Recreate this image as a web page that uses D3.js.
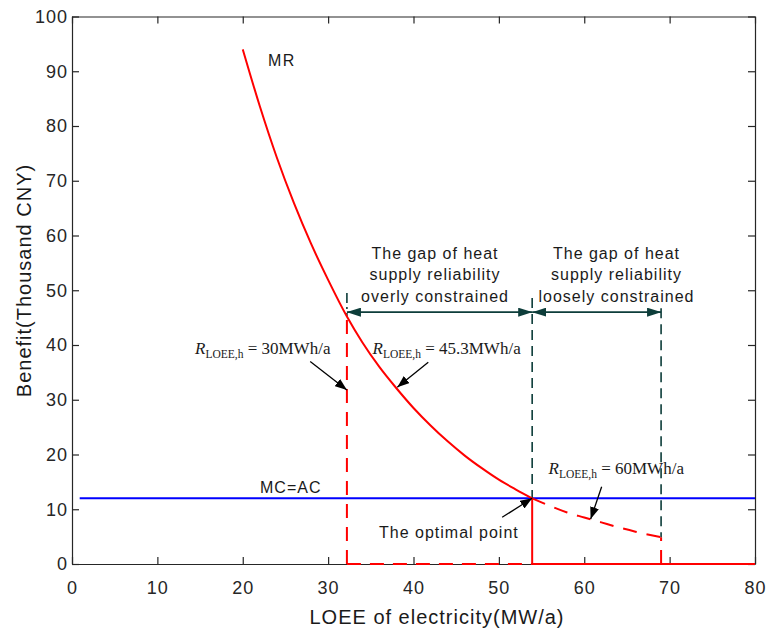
<!DOCTYPE html>
<html lang="en">
<head>
    <meta charset="UTF-8">
    <title>MR vs MC</title>
    <style>
        body { margin: 0; background: #fff; }
        svg { display: block; }
        .axis text { font-family: "Liberation Sans", Arial, sans-serif; font-size: 18px; fill: #262626; letter-spacing: 1px; }
        .axis path, .axis line { stroke: #262626; stroke-width: 1.2px; }
        .lbl { font-family: "Liberation Sans", Arial, sans-serif; fill: #1a1a1a; }
        .rl { font-family: "Liberation Serif", "Times New Roman", serif; fill: #1a1a1a; font-size: 17px; }
    </style>
</head>
<body>
    <div id="chart"></div>
    <script src="https://d3js.org/d3.v7.min.js"></script>
    <script>
        // tick values
        const xTicks = [0, 10, 20, 30, 40, 50, 60, 70, 80];
        const yTicks = [0, 10, 20, 30, 40, 50, 60, 70, 80, 90, 100];

        // MR curve, solid part (LOEE, benefit)
        const mrX = [20, 22, 24, 26, 28, 30, 32.2, 34, 36, 38, 40, 42, 44, 46, 48, 50, 52, 53.9];
        const mrY = [94, 83.6, 74.2, 65.9, 58.5, 51.9, 45.2, 40.5, 36.0, 32.1, 28.5, 25.3, 22.4, 19.8, 17.5, 15.4, 13.6, 12.0];
        // MR curve beyond the optimum (dashed)
        const mrDashX = [53.9, 56, 58, 60, 62, 64, 66, 69];
        const mrDashY = [12.0, 10.6, 9.4, 8.5, 7.6, 6.7, 5.9, 4.9];

        // MC = AC level
        const mcX = [0.9, 80];
        const mcY = [12, 12];

        // key LOEE positions: 30 MWh/a, optimum, 60 MWh/a
        const keyX = [32.2, 53.9, 69];
        const keyMR = [45.2, 12.0, 4.9];
        const gapTop = [49.5, 48.6, 46.7];
        const gapArrowY = 46;

        const width = 774, height = 632;
        const svg = d3.select('#chart').append('svg')
            .attr('width', width).attr('height', height);

        const x = d3.scaleLinear().domain([0, 80]).range([72, 755]);
        const y = d3.scaleLinear().domain([0, 100]).range([564, 16.5]);

        const defs = svg.append('defs');
        function marker(id, color, len, half) {
            defs.append('marker')
                .attr('id', id)
                .attr('viewBox', `${-len} ${-half} ${len} ${half * 2}`)
                .attr('refX', 0).attr('refY', 0)
                .attr('markerUnits', 'userSpaceOnUse')
                .attr('markerWidth', len).attr('markerHeight', half * 2)
                .attr('orient', 'auto-start-reverse')
                .append('path')
                .attr('d', `M0,0L${-len},${-half}L${-len},${half}Z`)
                .attr('fill', color);
        }
        marker('ah', '#000', 12, 4.5);
        marker('gh', '#0d3d3a', 14, 4.5);

        // axes (box with inward ticks)
        svg.append('g').attr('class', 'axis')
            .attr('transform', `translate(0,${y(0)})`)
            .call(d3.axisBottom(x).tickValues(xTicks).tickSizeInner(-7).tickSizeOuter(0).tickPadding(17));
        svg.append('g').attr('class', 'axis')
            .attr('transform', `translate(0,${y(100)})`)
            .call(d3.axisTop(x).tickValues(xTicks).tickSizeInner(-7).tickSizeOuter(0).tickFormat(''));
        svg.append('g').attr('class', 'axis')
            .attr('transform', `translate(${x(0)},0)`)
            .call(d3.axisLeft(y).tickValues(yTicks).tickSizeInner(-7).tickSizeOuter(0).tickPadding(4));
        svg.append('g').attr('class', 'axis')
            .attr('transform', `translate(${x(80)},0)`)
            .call(d3.axisRight(y).tickValues(yTicks).tickSizeInner(-7).tickSizeOuter(0).tickFormat(''));

        const line = d3.line().x(d => x(d[0])).y(d => y(d[1])).curve(d3.curveMonotoneX);
        const seg = (x1, y1, x2, y2) => [[x1, y1], [x2, y2]];
        const straight = d3.line().x(d => x(d[0])).y(d => y(d[1]));

        // MC=AC
        svg.append('path').attr('d', straight(d3.zip(mcX, mcY)))
            .attr('fill', 'none').attr('stroke', '#0000ff').attr('stroke-width', 2);

        // red dashed guides
        const red = '#ff0000';
        [seg(keyX[0], 0, keyX[0], keyMR[0]), seg(keyX[0], 0, keyX[1], 0), seg(keyX[2], 0, keyX[2], keyMR[2])]
            .forEach(s => svg.append('path').attr('d', straight(s))
                .attr('fill', 'none').attr('stroke', red).attr('stroke-width', 2).attr('stroke-dasharray', '14,9'));
        // red solid guides from optimum
        [seg(keyX[1], 0, keyX[1], keyMR[1]), seg(keyX[1], 0, 80, 0)]
            .forEach(s => svg.append('path').attr('d', straight(s))
                .attr('fill', 'none').attr('stroke', red).attr('stroke-width', 2));

        // dark green gap guides
        const green = '#0d3d3a';
        svg.append('path').attr('d', straight(seg(keyX[0], gapTop[0], keyX[0], keyMR[0])))
            .attr('fill', 'none').attr('stroke', green).attr('stroke-width', 1.6).attr('stroke-dasharray', '10,4,2,4');
        svg.append('path').attr('d', straight(seg(keyX[1], gapTop[1], keyX[1], keyMR[1])))
            .attr('fill', 'none').attr('stroke', green).attr('stroke-width', 1.6).attr('stroke-dasharray', '10,6');
        svg.append('path').attr('d', straight(seg(keyX[2], gapTop[2], keyX[2], keyMR[2])))
            .attr('fill', 'none').attr('stroke', green).attr('stroke-width', 1.6).attr('stroke-dasharray', '10,6');
        [seg(keyX[0], gapArrowY, keyX[1], gapArrowY), seg(keyX[1], gapArrowY, keyX[2], gapArrowY)]
            .forEach(s => svg.append('path').attr('d', straight(s))
                .attr('fill', 'none').attr('stroke', green).attr('stroke-width', 1.6)
                .attr('marker-start', 'url(#gh)').attr('marker-end', 'url(#gh)'));

        // MR curve
        svg.append('path').attr('d', line(d3.zip(mrX, mrY)))
            .attr('fill', 'none').attr('stroke', red).attr('stroke-width', 2);
        svg.append('path').attr('d', line(d3.zip(mrDashX, mrDashY)))
            .attr('fill', 'none').attr('stroke', red).attr('stroke-width', 2).attr('stroke-dasharray', '14,10');

        // black annotation arrows: tip in data units, tail offset in px
        const arrows = [
            { tx: 32.2, ty: 31.8, dx: -36.7, dy: -28.3 },
            { tx: 38.1, ty: 32.3, dx: 31, dy: -25 },
            { tx: 60.75, ty: 8.2, dx: 11, dy: -32.3 },
            { tx: 53.9, ty: 12, dx: -30, dy: 19 }
        ];
        arrows.forEach(a => {
            svg.append('line')
                .attr('x1', x(a.tx) + a.dx).attr('y1', y(a.ty) + a.dy)
                .attr('x2', x(a.tx)).attr('y2', y(a.ty))
                .attr('stroke', '#000').attr('stroke-width', 1.3)
                .attr('marker-end', 'url(#ah)');
        });

        // plain labels
        function label(txt, px, py, anchor, size, ls) {
            svg.append('text').attr('class', 'lbl')
                .attr('x', px).attr('y', py)
                .attr('text-anchor', anchor)
                .attr('font-size', size)
                .attr('letter-spacing', ls)
                .text(txt);
        }
        label('MR', 268, 66, 'start', 16, 1.5);
        label('MC=AC', 260, 493, 'start', 16, 1);
        label('The optimal point', 379, 537.5, 'start', 16, 1);
        ['The gap of heat', 'supply reliability', 'overly constrained']
            .forEach((t, i) => label(t, 435, 258.5 + i * 21.7, 'middle', 16, 1));
        ['The gap of heat', 'supply reliability', 'loosely constrained']
            .forEach((t, i) => label(t, 616.5, 258.5 + i * 21.7, 'middle', 16, 1));

        // R_LOEE,h labels
        function rLabel(val, px, py) {
            const t = svg.append('text').attr('class', 'rl').attr('x', px).attr('y', py);
            t.append('tspan').attr('font-style', 'italic').text('R');
            t.append('tspan').attr('font-size', 11.5).attr('dy', 4).text('LOEE,h');
            t.append('tspan').attr('dy', -4).text('\u00a0=\u00a0' + val + 'MWh/a');
        }
        rLabel('30', 195, 354);
        rLabel('45.3', 372.5, 353.5);
        rLabel('60', 548.5, 473.5);

        // axis titles
        label('LOEE of electricity(MW/a)', 437, 624, 'middle', 20, 1);
        svg.append('text').attr('class', 'lbl')
            .attr('transform', `translate(31,280.5) rotate(-90)`)
            .attr('text-anchor', 'middle')
            .attr('font-size', 20)
            .attr('letter-spacing', 1)
            .text('Benefit(Thousand CNY)');
    </script>
</body>
</html>
